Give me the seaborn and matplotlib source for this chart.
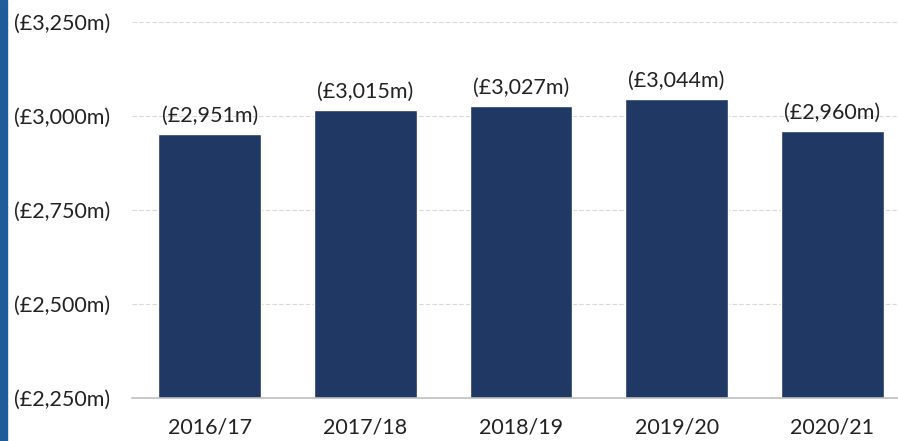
import seaborn as sns
import pandas as pd
import matplotlib.pyplot as plt
from matplotlib.patches import Rectangle

# data
years = ["2016/17", "2017/18", "2018/19", "2019/20", "2020/21"]
values = [2951, 3015, 3027, 3044, 2960]
yticks = [2250, 2500, 2750, 3000, 3250]

df = pd.DataFrame({"Year": years, "Value": values})

sns.set_style("white")
plt.rcParams["font.family"] = ["Lato", "DejaVu Sans"]

fig = plt.figure(figsize=(8.98, 4.41), dpi=100)
ax = fig.add_axes([132 / 898, 43 / 441, 778 / 898, 376 / 441])

sns.barplot(x="Year", y="Value", data=df, color="#203864", width=0.66,
            saturation=1, ax=ax)

ax.set_ylim(2250, 3250)
ax.set_xlim(-0.5, 4.5)
ax.set_yticks(yticks)
ax.set_yticklabels([f"(£{v:,}m)" for v in yticks], fontsize=15.5, color="#222222")
ax.tick_params(axis="y", length=0, pad=16)
ax.tick_params(axis="x", length=0, pad=14, labelsize=15.5, labelcolor="#222222")
ax.set_xlabel("")
ax.set_ylabel("")

ax.grid(axis="y", color="#D9D9D9", linestyle=(0, (4, 2)), linewidth=0.8)
ax.set_axisbelow(True)
for s in ["top", "right", "left"]:
    ax.spines[s].set_visible(False)
ax.spines["bottom"].set_color("#BFBFBF")
ax.spines["bottom"].set_linewidth(1.2)

for i, v in enumerate(values):
    ax.annotate(f"(£{v:,}m)", (i, v), xytext=(0, 6), textcoords="offset points",
                ha="center", va="bottom", fontsize=15.5, color="#222222")

# blue stripe on the left edge
fig.patches.append(Rectangle((0, 0), 7 / 898, 1, transform=fig.transFigure,
                             color="#1F5C99", zorder=0))

fig.savefig("out.png", dpi=100)
